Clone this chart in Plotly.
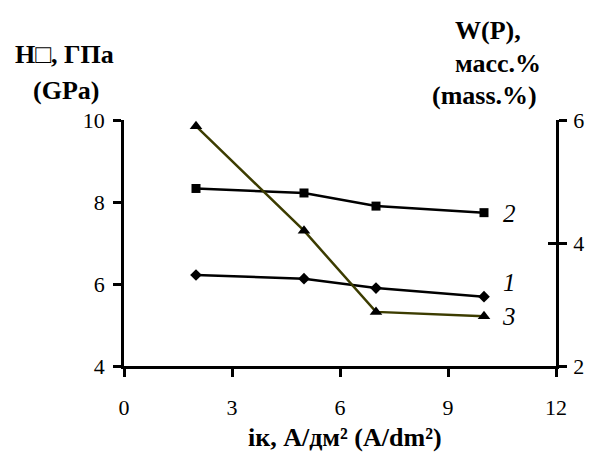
import plotly.graph_objects as go

x_vals = [2, 5, 7, 10]
hardness_1 = [6.22, 6.13, 5.9, 5.69]
hardness_2 = [8.33, 8.22, 7.9, 7.74]
phosphorus_3 = [5.9, 4.2, 2.88, 2.81]

x_ticks = [0, 3, 6, 9, 12]
y_left_ticks = [4, 6, 8, 10]
y_right_ticks = [2, 4, 6]

font_family = "Liberation Serif"
olive = "#3c3c00"

fig = go.Figure()
fig.add_trace(go.Scatter(x=x_vals, y=hardness_1, mode="lines+markers",
                         line=dict(color="black", width=2.5),
                         marker=dict(symbol="diamond", size=9, color="black"),
                         showlegend=False))
fig.add_trace(go.Scatter(x=x_vals, y=hardness_2, mode="lines+markers",
                         line=dict(color="black", width=2.5),
                         marker=dict(symbol="square", size=9, color="black"),
                         showlegend=False))
fig.add_trace(go.Scatter(x=x_vals, y=phosphorus_3, mode="lines+markers", yaxis="y2",
                         line=dict(color=olive, width=2.5),
                         marker=dict(symbol="triangle-up", size=11, color="black"),
                         showlegend=False))
# helper invisible trace to draw the inner half of the crossing ticks on the right axis
fig.add_trace(go.Scatter(x=[0], y=[2], yaxis="y3", mode="markers",
                         marker=dict(opacity=0), showlegend=False, hoverinfo="skip"))

tickfont = dict(family=font_family, size=22, color="black")

fig.update_layout(
    width=595, height=452,
    margin=dict(l=124, r=39, t=120, b=86),
    paper_bgcolor="white", plot_bgcolor="white",
    font=dict(family=font_family, color="black"),
    xaxis=dict(range=[0, 12], tickvals=x_ticks, showgrid=False, zeroline=False,
               showline=True, linecolor="black", linewidth=2.5,
               ticks="outside", ticklen=8, tickwidth=2.5, tickcolor="black",
               tickfont=tickfont, ticklabelstandoff=12),
    yaxis=dict(range=[4, 10], tickvals=y_left_ticks, showgrid=False, zeroline=False,
               showline=True, linecolor="black", linewidth=2.5,
               ticks="outside", ticklen=8, tickwidth=2.5, tickcolor="black",
               tickfont=tickfont, ticklabelstandoff=4),
    yaxis2=dict(range=[2, 6], tickvals=y_right_ticks, overlaying="y", side="right",
                showgrid=False, zeroline=False,
                showline=True, linecolor="black", linewidth=2.5,
                ticks="outside", ticklen=8, tickwidth=2.5, tickcolor="black",
                tickfont=tickfont, ticklabelstandoff=2),
    yaxis3=dict(range=[2, 6], tickvals=y_right_ticks, overlaying="y", side="right",
                showgrid=False, zeroline=False, showline=False,
                ticks="inside", ticklen=8, tickwidth=2.5, tickcolor="black",
                showticklabels=False),
)

title_font = dict(family=font_family, size=26, color="black")
titles = [
    (-0.1366, 1.268, "<b>H□, ГПа</b>"),
    (-0.134, 1.118, "<b>(GPa)</b>"),
    (0.842, 1.362, "<b>W(P),</b>"),
    (0.866, 1.228, "<b>масс.%</b>"),
    (0.835, 1.098, "<b>(mass.%)</b>"),
    (0.512, -0.29, "<b>\u0456к, А/дм² (A/dm²)</b>"),
]
for tx, ty, tt in titles:
    fig.add_annotation(xref="paper", yref="paper", x=tx, y=ty, text=tt,
                       showarrow=False, font=title_font, xanchor="center", yanchor="middle")

label_font = dict(family=font_family, size=25, color="black")
fig.add_annotation(x=10.7, y=7.72, text="<i>2</i>", showarrow=False, font=label_font)
fig.add_annotation(x=10.7, y=6.03, text="<i>1</i>", showarrow=False, font=label_font)
fig.add_annotation(x=10.7, y=5.2, text="<i>3</i>", showarrow=False, font=label_font)

fig.write_html("out.html")
